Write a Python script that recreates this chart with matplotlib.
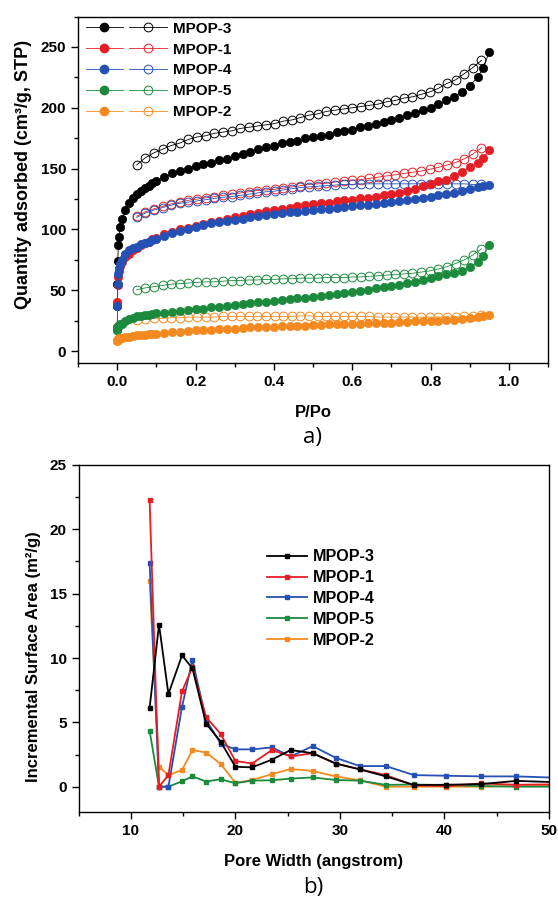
import matplotlib
matplotlib.use('Agg')
import matplotlib.pyplot as plt
from matplotlib.lines import Line2D
from matplotlib.legend_handler import HandlerTuple
from matplotlib.ticker import MultipleLocator

plt.rcParams['font.family'] = ['Liberation Sans', 'DejaVu Sans']
plt.rcParams['font.weight'] = 'bold'
plt.rcParams['axes.linewidth'] = 1.0

# samples in legend order
samples = ['MPOP-3', 'MPOP-1', 'MPOP-4', 'MPOP-5', 'MPOP-2']
colors = ['#000000', '#e51e25', '#2451b3', '#1b8a3c', '#f48a1f']

# ---- a) N2 isotherms ----
p_ads = [0.0003, 0.0008, 0.0015, 0.003, 0.005, 0.008, 0.012, 0.02, 0.03, 0.04,
         0.05, 0.06, 0.07, 0.08, 0.09, 0.10,
         0.12, 0.14, 0.16, 0.18, 0.20, 0.22, 0.24, 0.26, 0.28, 0.30,
         0.32, 0.34, 0.36, 0.38, 0.40, 0.42, 0.44, 0.46, 0.48, 0.50,
         0.52, 0.54, 0.56, 0.58, 0.60, 0.62, 0.64, 0.66, 0.68, 0.70,
         0.72, 0.74, 0.76, 0.78, 0.80, 0.82, 0.84, 0.86, 0.88, 0.90,
         0.92, 0.935, 0.95]

ads_mpop3 = [37, 55, 74, 87, 94, 102, 109, 116, 122, 126, 129, 132, 134, 136, 138, 140,
             143, 146, 148, 150, 152, 154, 155, 157, 158, 160,
             162, 164, 166, 168, 169, 171, 172, 173, 175, 176,
             177, 178, 180, 181, 182, 184, 185, 187, 188, 190,
             192, 194, 196, 198, 200, 203, 206, 209, 213, 218,
             225, 233, 246]
ads_mpop1 = [20, 40, 54, 61, 66, 70, 73, 77, 80, 83, 85, 87, 89, 90, 92, 93,
             96, 98, 100, 101.5, 103, 104.5, 106, 107, 108.5, 110,
             111, 112.5, 113.5, 115, 116, 117, 118, 119, 120, 121,
             121.5, 122, 123, 124, 124.5, 125.5, 126, 127, 128, 129,
             130, 132, 133.5, 135.5, 137.5, 139.5, 141, 144, 147, 151,
             155, 159, 165]
ads_mpop4 = [17, 37, 55, 63, 68, 72, 75, 80, 83, 85, 86, 88, 89, 90, 91, 92,
             95, 97, 99, 100.5, 102, 103.5, 105, 106, 107, 108,
             109, 110, 111, 112, 113, 113.5, 114, 114.5, 115, 116,
             116.5, 117, 118, 118.5, 119, 120, 120.5, 121, 122, 122.5,
             123.5, 124, 125, 126, 127, 128, 129, 130, 131.5, 133,
             134.5, 135.5, 136.5]
ads_mpop5 = [17, 19, 20, 21, 21.5, 22, 22.5, 25, 26.5, 27.5, 28.5, 29, 29.5, 30, 30.5, 31,
             31.5, 32, 33, 34, 34.5, 35, 36, 36.5, 37.5, 38,
             38.5, 39.5, 40, 40.5, 41, 42, 42.5, 43.5, 44, 44.5,
             45.5, 46, 47, 48, 48.5, 49.5, 50.5, 51.5, 52.5, 53.5,
             54.5, 56, 57, 58.5, 60, 61.5, 63, 64.5, 66, 69,
             73, 78, 87]
ads_mpop2 = [8.5, 9, 9.5, 10, 10.5, 11, 11, 11.5, 12, 12.5, 13, 13.5, 13.5, 14, 14.5, 14.5,
             15, 15.5, 16, 16.5, 17, 17, 17.5, 18, 18.5, 18.5,
             19, 19.5, 19.5, 20, 20, 20.5, 20.5, 21, 21, 21.5,
             21.5, 22, 22, 22, 22.5, 22.5, 23, 23, 23.5, 23.5,
             24, 24, 24.5, 24.5, 25, 25, 25.5, 26, 26.5, 27,
             28, 28.5, 30]

p_des = [0.050, 0.072, 0.094, 0.116, 0.138, 0.160, 0.182, 0.204, 0.226, 0.248,
         0.270, 0.292, 0.314, 0.336, 0.358, 0.380, 0.402, 0.424, 0.446, 0.468,
         0.490, 0.512, 0.534, 0.556, 0.578, 0.600, 0.622, 0.644, 0.666, 0.688,
         0.710, 0.732, 0.754, 0.776, 0.798, 0.820, 0.842, 0.864, 0.886, 0.908, 0.930]

des_mpop3 = [153, 159, 163, 166, 169, 171, 174, 176, 177, 179,
             180, 181, 183, 184, 185, 186, 187, 189, 190, 192,
             194, 195, 197, 198, 199, 200, 201, 202, 203, 205,
             206, 208, 209, 211, 213, 216, 220, 223, 228, 233, 239]
des_mpop1 = [111, 114.5, 117, 119, 121, 122.5, 124, 125, 126, 127,
             128, 129, 130, 131, 132, 132.5, 133, 134, 135, 136,
             137, 137.5, 138, 139, 140, 140.5, 141, 142, 143, 144,
             145, 146, 147, 148, 149.5, 151, 153, 155, 158, 162, 167]
des_mpop4 = [110, 113.5, 116, 118, 120, 121.5, 122.5, 123.5, 124.5, 125.5,
             126.5, 127, 128, 129, 130, 131, 131.5, 132.5, 133.5, 134.5,
             135, 135.5, 136, 136.5, 137, 137, 137.5, 137.5, 137.5, 137.5,
             137.5, 137.5, 137.5, 137.5, 137.5, 137.5, 137.5, 137.5, 137.5, 137, 137]
des_mpop5 = [50.5, 52, 53, 54, 55, 55.5, 56, 56.5, 57, 57,
             57.5, 58, 58, 58.5, 58.5, 59, 59, 59.5, 59.5, 60,
             60, 60, 60.5, 60.5, 60.5, 61, 61, 61.5, 62, 62.5,
             63, 63.5, 64, 65, 66, 67.5, 69.5, 72, 75, 79, 84]
des_mpop2 = [26, 26.5, 27, 27, 27.5, 27.5, 28, 28, 28, 28,
             28.5, 28.5, 28.5, 28.5, 28.5, 28.5, 28.5, 28.5, 28.5, 29,
             29, 28.5, 28.5, 28.5, 28.5, 28.5, 28.5, 28.5, 28, 28,
             28, 28, 28, 28, 28, 28, 28, 28, 28.5, 29, 29.5]

ads = [ads_mpop3, ads_mpop1, ads_mpop4, ads_mpop5, ads_mpop2]
des = [des_mpop3, des_mpop1, des_mpop4, des_mpop5, des_mpop2]

# ---- b) pore size distribution ----
pore_width = [11.8, 12.7, 13.6, 14.9, 15.9, 17.2, 18.6, 20.0, 21.6, 23.5,
              25.3, 27.4, 29.6, 31.9, 34.4, 37.1, 40.2, 43.5, 46.9, 50.6]
psd_mpop3 = [6.1, 12.6, 7.2, 10.2, 9.2, 4.9, 3.5, 1.55, 1.5, 2.1,
             2.85, 2.6, 1.8, 1.35, 0.8, 0.13, 0.15, 0.2, 0.45, 0.35]
psd_mpop1 = [22.3, 0.0, 0.9, 7.4, 9.3, 5.4, 4.1, 2.0, 1.8, 2.85,
             2.35, 2.6, 1.8, 1.35, 0.9, 0.1, 0.05, 0.25, 0.15, 0.18]
psd_mpop4 = [17.4, 0.0, 0.0, 6.2, 9.85, 5.2, 3.35, 2.9, 2.9, 3.05,
             2.35, 3.15, 2.25, 1.6, 1.6, 0.9, 0.85, 0.8, 0.8, 0.7]
psd_mpop5 = [4.35, 0.0, 0.0, 0.42, 0.8, 0.4, 0.58, 0.27, 0.47, 0.5,
             0.63, 0.72, 0.52, 0.47, 0.14, 0.17, 0.12, 0.05, 0.0, 0.0]
psd_mpop2 = [15.95, 1.55, 0.9, 1.3, 2.85, 2.65, 1.77, 0.3, 0.52, 0.97,
             1.38, 1.22, 0.8, 0.5, 0.0, 0.0, 0.0, 0.0, 0.05, 0.05]
psd = [psd_mpop3, psd_mpop1, psd_mpop4, psd_mpop5, psd_mpop2]

fig = plt.figure(figsize=(5.58, 8.98), dpi=100)
ax1 = fig.add_axes([0.1398, 0.5954, 0.8423, 0.3862])
ax2 = fig.add_axes([0.1407, 0.0953, 0.8430, 0.3869])

# isotherms; blue drawn before red so red sits on top like the original
draw_order = [0, 2, 1, 3, 4]
for i in draw_order:
    c = colors[i]
    ax1.plot(p_des, des[i], color=c, lw=0.6, marker='o', ms=6.3, mfc='none',
             mec=c, mew=0.7, zorder=2 + i * 0.1)
    ax1.plot(p_ads, ads[i], color=c, lw=0.6, marker='o', ms=6, mfc=c, mec=c,
             mew=0.5, zorder=3 + i * 0.1)

handles = []
for c in colors:
    h_f = Line2D([], [], color=c, lw=0.6, marker='o', ms=6, mfc=c, mec=c)
    h_o = Line2D([], [], color=c, lw=0.6, marker='o', ms=6.3, mfc='none', mec=c, mew=0.7)
    handles.append((h_f, h_o))
ax1.legend(handles, samples, handler_map={tuple: HandlerTuple(ndivide=None, pad=0.4)},
           loc='upper left', bbox_to_anchor=(0.016, 0.985), frameon=False,
           borderaxespad=0, borderpad=0, handlelength=5.3, handletextpad=0.4,
           labelspacing=0.45, fontsize=11, numpoints=1)

ax1.set_xlim(-0.1, 1.1)
ax1.set_ylim(-10, 275)
ax1.xaxis.set_major_locator(MultipleLocator(0.2))
ax1.xaxis.set_minor_locator(MultipleLocator(0.1))
ax1.yaxis.set_major_locator(MultipleLocator(50))
ax1.yaxis.set_minor_locator(MultipleLocator(25))
ax1.set_xticks([0.0, 0.2, 0.4, 0.6, 0.8, 1.0])
ax1.set_xlabel('P/Po', fontsize=12, fontweight='bold')
ax1.set_ylabel('Quantity adsorbed (cm³/g, STP)', fontsize=13, fontweight='bold')
ax1.xaxis.set_label_coords(0.5, -0.12)
ax1.yaxis.set_label_coords(-0.098, 0.545)

# pore size distribution; legend order kept via handles
plot_order = [4, 3, 2, 1, 0]
lines = {}
for i in plot_order:
    ln, = ax2.plot(pore_width, psd[i], color=colors[i], lw=1.3, marker='s', ms=3.3,
                   mec=colors[i], mfc=colors[i])
    lines[i] = ln
ax2.legend([lines[i] for i in range(5)], samples, loc='upper left',
           bbox_to_anchor=(0.401, 0.757), frameon=False, borderaxespad=0,
           borderpad=0, handlelength=2.45, handletextpad=0.4, labelspacing=0.36,
           fontsize=11.6)

ax2.set_xlim(5, 50)
ax2.set_ylim(-2, 25)
ax2.xaxis.set_major_locator(MultipleLocator(10))
ax2.xaxis.set_minor_locator(MultipleLocator(5))
ax2.yaxis.set_major_locator(MultipleLocator(5))
ax2.yaxis.set_minor_locator(MultipleLocator(2.5))
ax2.set_xlabel('Pore Width (angstrom)', fontsize=12, fontweight='bold')
ax2.set_ylabel('Incremental Surface Area (m²/g)', fontsize=12, fontweight='bold')
ax2.xaxis.set_label_coords(0.5, -0.12)
ax2.yaxis.set_label_coords(-0.08, 0.447)

for ax in (ax1, ax2):
    ax.tick_params(which='major', direction='out', length=5, width=1.0, pad=3.5,
                   labelsize=11, top=False, right=False)
    ax.tick_params(which='minor', direction='out', length=3, width=1.0,
                   top=False, right=False)
    for lab in ax.get_xticklabels() + ax.get_yticklabels():
        lab.set_fontweight('bold')

fig.text(313 / 558, 1 - 437 / 898, 'a)', ha='center', va='center', fontsize=16,
         family=['Open Sans', 'DejaVu Sans'], fontweight='normal')
fig.text(313 / 558, 1 - 888 / 898, 'b)', ha='center', va='center', fontsize=16,
         family=['Open Sans', 'DejaVu Sans'], fontweight='normal')

fig.savefig('out.png', dpi=100)
